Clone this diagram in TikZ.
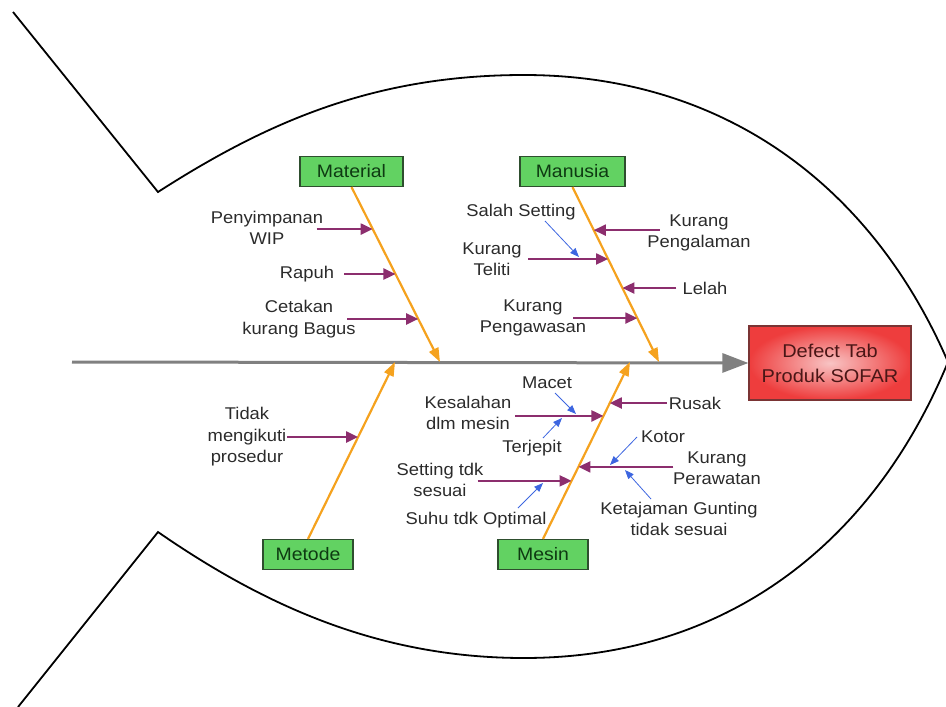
\documentclass[tikz,border=0pt]{standalone}
\usepackage{fontspec}
\setmainfont{Liberation Sans}[FakeStretch=1.08]
\usetikzlibrary{arrows.meta}

\definecolor{bonecol}{HTML}{F5A21E}
\definecolor{causecol}{HTML}{8C2E6E}
\definecolor{subcol}{HTML}{3D66E0}
\definecolor{catfill}{HTML}{62D262}
\definecolor{catdraw}{HTML}{2E4E2E}
\definecolor{cattext}{HTML}{0E3A12}
\definecolor{efffill}{HTML}{EE3D3D}
\definecolor{effin}{HTML}{F8C4C4}
\definecolor{effdraw}{HTML}{7A3434}
\definecolor{efftext}{HTML}{4A1616}
\definecolor{labeltext}{HTML}{2B2B2B}
\definecolor{spinecol}{HTML}{808080}

\tikzset{
  outline/.style={line width=1.8pt, black, line join=miter},
  spine/.style={line width=3pt, spinecol, -{Triangle[length=26pt,width=19pt]}},
  bone/.style={line width=2.2pt, bonecol, -{Triangle[length=14pt,width=10pt]}},
  cause/.style={line width=2.2pt, causecol, -{Triangle[length=12pt,width=11pt]}},
  subcause/.style={line width=0.8pt, subcol, -{Triangle[length=9pt,width=7pt]}},
  lbl/.style={text=labeltext, font=\fontsize{17}{21.5}\selectfont, align=center, inner sep=0pt},
  cat/.style={draw=catdraw, line width=1.2pt, fill=catfill, text=cattext,
    font=\fontsize{18}{22}\selectfont, minimum height=30pt, inner sep=0pt},
  eff/.style={draw=effdraw, line width=1.2pt, shade, shading=radial, inner color=effin,
    outer color=efffill, text=efftext, font=\fontsize{18.5}{25}\selectfont, align=center,
    minimum width=162pt, minimum height=74pt, inner sep=0pt},
}

\begin{document}
\begin{tikzpicture}[x=1pt,y=-1pt]
\useasboundingbox (0,0) rectangle (946,707);

% fish outline: tail edges and body
\draw[outline] (13,12) -- (158,192)
  .. controls (267,122) and (374,75) .. (524,75)
  .. controls (724,75) and (872,186) .. (948,362)
  .. controls (872,546) and (724,658) .. (524,658)
  .. controls (380,658) and (265,606) .. (158,532)
  -- (18,707);

% head and spine
\node[eff] (effect) at (830,363) {Defect Tab\\Produk SOFAR};
\coordinate (tail) at (72,362);
\draw[spine] (tail) -- (effect.west);

% category boxes
\node[cat, minimum width=103pt] (material) at (351.5,171.5) {Material};
\node[cat, minimum width=105pt] (manusia) at (572.5,171.5) {Manusia};
\node[cat, minimum width=90pt] (metode) at (308,554.5) {Metode};
\node[cat, minimum width=90pt] (mesin) at (543,554.5) {Mesin};

% bone tips on the spine
\coordinate (matTip) at (440,362);
\coordinate (manTip) at (659,362);
\coordinate (metTip) at (395,362);
\coordinate (mesTip) at (630,362);

% points on the bones where causes meet them
\path (material.south) -- (matTip)
  coordinate[pos=0.24] (mat1) coordinate[pos=0.497] (mat2) coordinate[pos=0.754] (mat3);
\path (manusia.south) -- (manTip)
  coordinate[pos=0.246] (man1) coordinate[pos=0.411] (man2)
  coordinate[pos=0.577] (man3) coordinate[pos=0.749] (man4);
\path (metode.north) -- (metTip) coordinate[pos=0.576] (met1);
\path (mesin.north) -- (mesTip)
  coordinate[pos=0.768] (mes1) coordinate[pos=0.695] (mes2)
  coordinate[pos=0.407] (mes3) coordinate[pos=0.328] (mes4);

% bones
\draw[bone] (material.south) -- (matTip);
\draw[bone] (manusia.south) -- (manTip);
\draw[bone] (metode.north) -- (metTip);
\draw[bone] (mesin.north) -- (mesTip);

% Material causes
\node[lbl] (penyimpanan) at (267,228) {Penyimpanan\\WIP};
\node[lbl] (rapuh) at (307,274) {Rapuh};
\node[lbl] (cetakan) at (299,319) {Cetakan\\kurang Bagus};
\draw[cause] ([xshift=-56pt]mat1) -- (mat1);
\draw[cause] ([xshift=-51pt]mat2) -- (mat2);
\draw[cause] ([xshift=-71pt]mat3) -- (mat3);

% Manusia causes
\node[lbl] (salah) at (521,212) {Salah Setting};
\node[lbl] (teliti) at (492,259) {Kurang\\Teliti};
\node[lbl] (pengalaman) at (699,233) {Kurang\\Pengalaman};
\node[lbl] (lelah) at (705,288) {Lelah};
\node[lbl] (pengawasan) at (533,318) {Kurang\\Pengawasan};
\draw[cause] ([xshift=66pt]man1) -- (man1);
\draw[cause] ([xshift=-80pt]man2) -- (man2);
\draw[cause] ([xshift=54pt]man3) -- (man3);
\draw[cause] ([xshift=-64pt]man4) -- (man4);
\coordinate (salahEnd) at (579,257);
\draw[subcause] (545,221) -- (salahEnd);

% Metode causes
\node[lbl] (prosedur) at (247,437) {Tidak\\mengikuti\\prosedur};
\draw[cause] ([xshift=-71pt]met1) -- (met1);

% Mesin causes
\node[lbl] (kesalahan) at (468,413) {Kesalahan\\dlm mesin};
\node[lbl] (macet) at (547,383) {Macet};
\node[lbl] (terjepit) at (532,448) {Terjepit};
\node[lbl] (rusak) at (695,403) {Rusak};
\node[lbl] (kotor) at (663,437) {Kotor};
\node[lbl] (perawatan) at (717,468) {Kurang\\Perawatan};
\node[lbl] (settingtdk) at (440,480) {Setting tdk\\sesuai};
\node[lbl] (suhu) at (476,520) {Suhu tdk Optimal};
\node[lbl] (ketajaman) at (679,519) {Ketajaman Gunting\\tidak sesuai};
\draw[cause] ([xshift=57pt]mes1) -- (mes1);
\draw[cause] ([xshift=-88pt]mes2) -- (mes2);
\draw[cause] ([xshift=95pt]mes3) -- (mes3);
\draw[cause] ([xshift=-94pt]mes4) -- (mes4);

\coordinate (macetEnd) at (576,414);
\coordinate (terjepitEnd) at (562,418);
\coordinate (kotorEnd) at (610,465);
\coordinate (ketajamanEnd) at (625,470);
\coordinate (suhuEnd) at (543,483);
\draw[subcause] (555,393) -- (macetEnd);
\draw[subcause] (543,438) -- (terjepitEnd);
\draw[subcause] (637,437) -- (kotorEnd);
\draw[subcause] (651,499) -- (ketajamanEnd);
\draw[subcause] (518,508) -- (suhuEnd);
\end{tikzpicture}
\end{document}
